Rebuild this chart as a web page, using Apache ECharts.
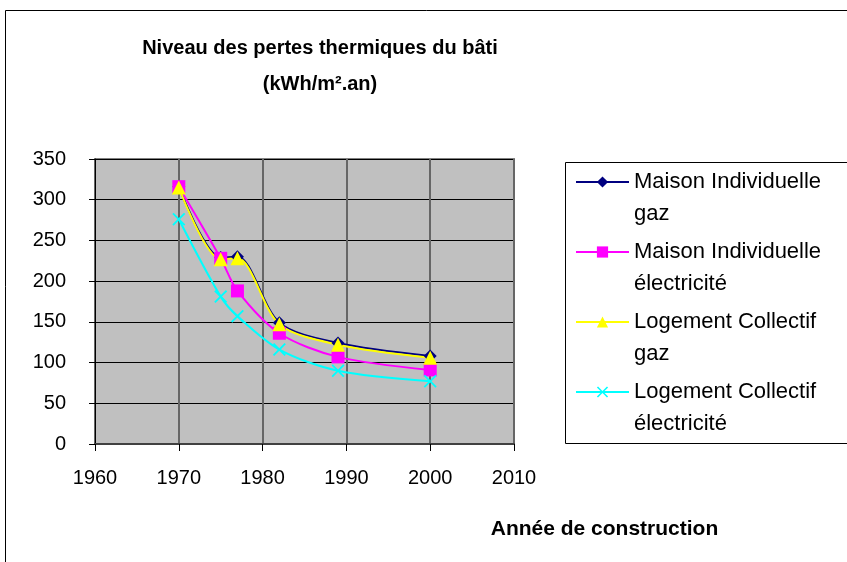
<!DOCTYPE html>
<html>
<head>
<meta charset="utf-8">
<script src="https://cdn.jsdelivr.net/npm/echarts@6/dist/echarts.min.js"></script>
<style>
    html, body { margin: 0; padding: 0; background: #fff; }
    #chart { width: 847px; height: 562px; }
</style>
</head>
<body>
<div id="chart"></div>
<script>
    // années de construction
    const years = [1970, 1975, 1977, 1982, 1989, 2000];
    const seriesNames = [
        'Maison Individuelle\ngaz',
        'Maison Individuelle\nélectricité',
        'Logement Collectif\ngaz',
        'Logement Collectif\nélectricité'
    ];
    const maisonGaz = [316, 229, 230, 149, 124, 108];
    const maisonElec = [316, 228, 188, 136, 107, 91];
    const collectifGaz = [315, 227, 228, 147, 122, 106];
    const collectifElec = [276, 181, 157, 116, 90, 77];
    const xTicks = [1960, 2010, 10];
    const yTicks = [0, 350, 50];

    const font = 'Arial, "Liberation Sans", sans-serif';
    const crossPath = 'path://M0,1L1,0L5,4L9,0L10,1L6,5L10,9L9,10L5,6L1,10L0,9L4,5Z';

    function pairs(values) {
        return years.map(function (y, i) { return [y, values[i]]; });
    }

    function lineSerie(name, values, color, symbol, size) {
        return {
            name: name,
            type: 'line',
            smooth: 0.3,
            data: pairs(values),
            symbol: symbol,
            symbolSize: size,
            lineStyle: { color: color, width: 2 },
            itemStyle: { color: color },
            emphasis: { disabled: true }
        };
    }

    const chart = echarts.init(document.getElementById('chart'));
    chart.setOption({
        animation: false,
        textStyle: { fontFamily: font },
        title: {
            text: 'Niveau des pertes thermiques du bâti\n(kWh/m².an)',
            left: 315,
            top: 25,
            textAlign: 'center',
            textStyle: { fontSize: 20, fontWeight: 'bold', color: '#000', lineHeight: 36, fontFamily: font }
        },
        graphic: [
            { type: 'rect', shape: { x: 5.5, y: 10.5, width: 1000, height: 1000 },
              style: { fill: 'none', stroke: '#000', lineWidth: 1 }, silent: true },
            { type: 'rect', shape: { x: 565.5, y: 162.5, width: 400, height: 281 },
              style: { fill: '#fff', stroke: '#000', lineWidth: 1 }, silent: true, z: -1 }
        ],
        legend: {
            left: 575,
            top: 134,
            orient: 'vertical',
            padding: 0,
            itemWidth: 53,
            itemHeight: 14,
            itemGap: -26,
            selectedMode: false,
            data: seriesNames,
            formatter: function (n) { return '\n' + n; },
            textStyle: { fontSize: 22, lineHeight: 32, color: '#000', fontFamily: font }
        },
        grid: {
            left: 95, right: 333, top: 159, bottom: 118,
            show: true,
            backgroundColor: '#c0c0c0',
            borderColor: '#808080',
            borderWidth: 2
        },
        xAxis: {
            type: 'value',
            min: xTicks[0], max: xTicks[1], interval: xTicks[2],
            name: 'Année de construction',
            nameLocation: 'middle',
            nameGap: 75,
            nameTextStyle: { fontSize: 21, fontWeight: 'bold', color: '#000', padding: [0, 0, 0, 600] },
            axisLine: { lineStyle: { color: '#404040', width: 2 } },
            axisTick: { length: 7, lineStyle: { color: '#000' } },
            axisLabel: { fontSize: 20, color: '#000', margin: 24, formatter: function (v) { return String(v); } },
            splitLine: { show: true, lineStyle: { color: '#666', width: 2 } }
        },
        yAxis: {
            type: 'value',
            min: yTicks[0], max: yTicks[1], interval: yTicks[2],
            axisLine: { show: true, lineStyle: { color: '#000', width: 1 } },
            axisTick: { show: true, length: 6, lineStyle: { color: '#000' } },
            axisLabel: { fontSize: 20, color: '#000', margin: 29 },
            splitLine: { show: true, lineStyle: { color: '#000', width: 1 } }
        },
        series: [
            lineSerie(seriesNames[0], maisonGaz, '#000080', 'diamond', 13),
            lineSerie(seriesNames[1], maisonElec, '#ff00ff', 'rect', 13),
            lineSerie(seriesNames[2], collectifGaz, '#ffff00', 'triangle', 14),
            lineSerie(seriesNames[3], collectifElec, '#00ffff', crossPath, 13)
        ]
    });
</script>
</body>
</html>
